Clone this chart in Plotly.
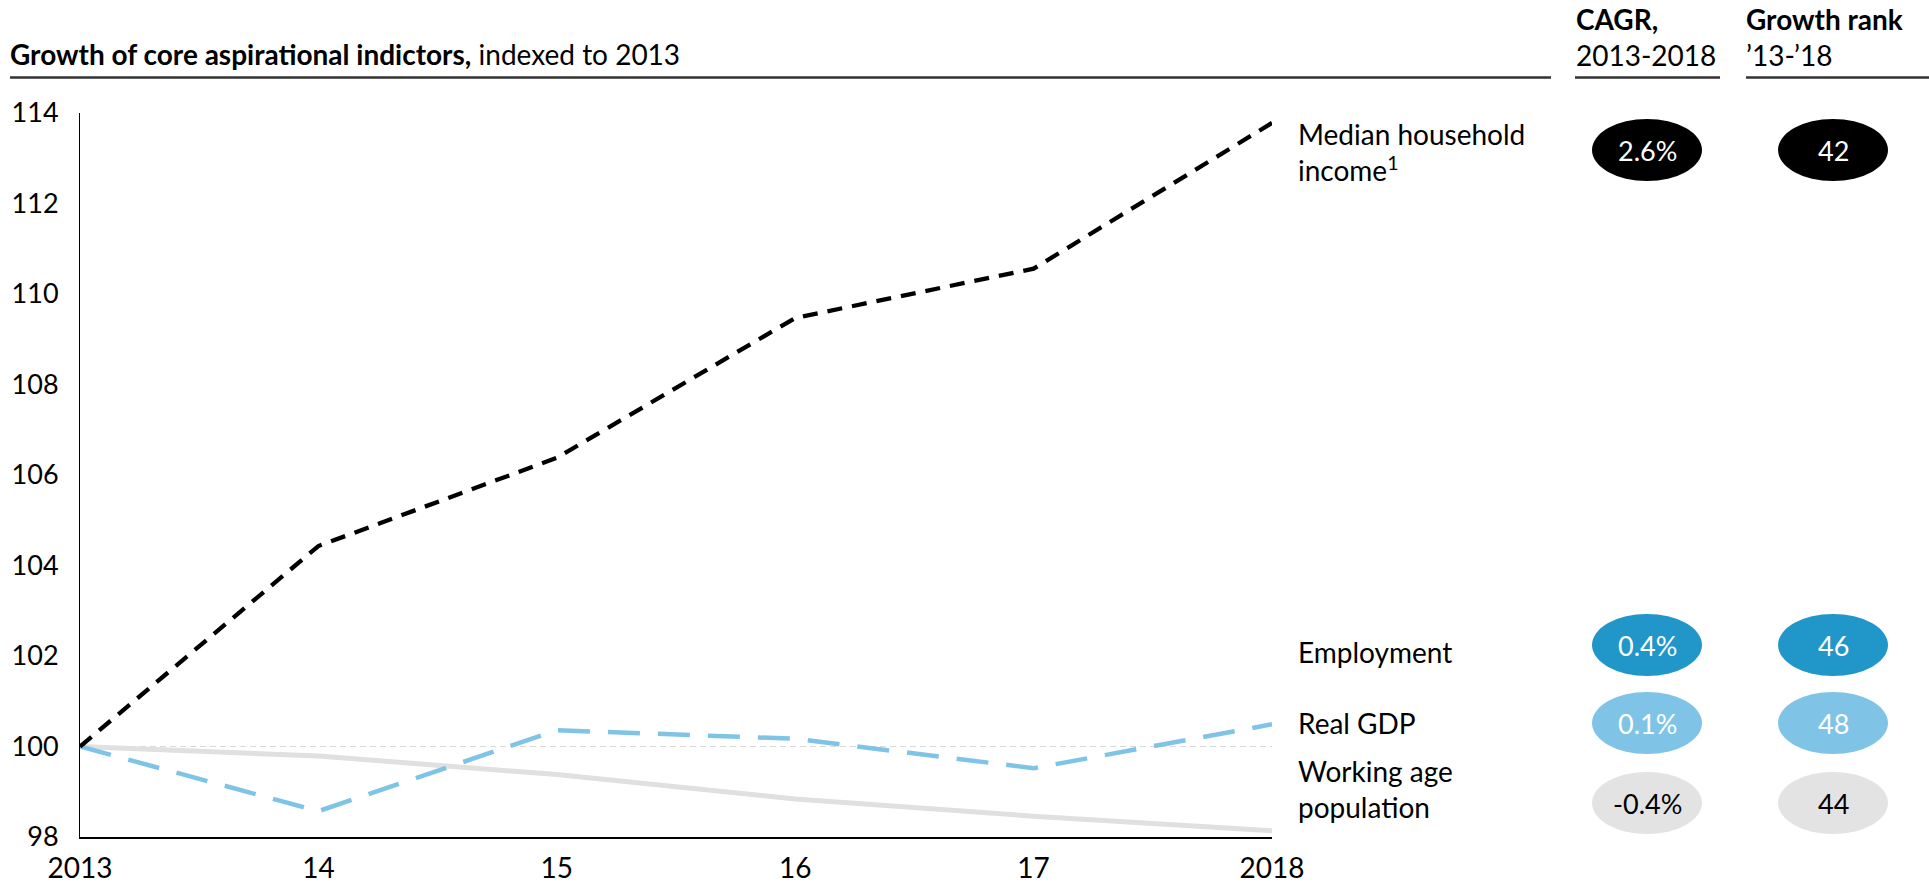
import plotly.graph_objects as go

# Index values, 2013 = 100
years = [2013, 2014, 2015, 2016, 2017, 2018]
year_labels = ["2013", "14", "15", "16", "17", "2018"]
median_income = [100.0, 104.43, 106.38, 109.47, 110.56, 113.78]
real_gdp = [100.0, 98.57, 100.36, 100.17, 99.52, 100.49]
working_age_pop = [100.0, 99.79, 99.38, 98.84, 98.46, 98.14]

# Side table
row_labels = ["Median household<br>income<sup>1</sup>", "Employment", "Real GDP",
              "Working age<br>population"]
cagr = ["2.6%", "0.4%", "0.1%", "-0.4%"]
growth_rank = ["42", "46", "48", "44"]
row_fill = ["#000000", "#2196C9", "#7FC4E6", "#E3E3E3"]
row_text = ["#FFFFFF", "#FFFFFF", "#FFFFFF", "#000000"]

W, H = 1929, 884
FONT = "Lato, 'Open Sans', sans-serif"
FS = 28


def px(x, y):
    """Pixel position -> paper coordinates."""
    return x / W, 1 - y / H


fig = go.Figure()

# Reference level at 100
fig.add_trace(go.Scatter(x=[years[0], years[-1]], y=[100, 100], mode="lines",
                         line=dict(color="#D9D9D9", width=1.2, dash="6px,4px"),
                         hoverinfo="skip", showlegend=False))
fig.add_trace(go.Scatter(x=years, y=working_age_pop, mode="lines",
                         line=dict(color="#E0E0E0", width=5),
                         name="Working age population", showlegend=False))
fig.add_trace(go.Scatter(x=years, y=real_gdp, mode="lines",
                         line=dict(color="#7FC4E6", width=4.5, dash="32px,18px"),
                         name="Real GDP", showlegend=False))
fig.add_trace(go.Scatter(x=years, y=median_income, mode="lines",
                         line=dict(color="#000000", width=4.3, dash="15px,10px"),
                         name="Median household income", showlegend=False))

shapes = []
annotations = []

# Header rules
for x0, x1 in [(10, 1551), (1575, 1720), (1746, 1929)]:
    a0, b0 = px(x0, 77.5)
    a1, _ = px(x1, 77.5)
    shapes.append(dict(type="line", xref="paper", yref="paper", x0=a0, x1=a1,
                       y0=b0, y1=b0, line=dict(color="#333333", width=2.4)))

# Headers
hx, hy = px(8, 54)
annotations.append(dict(text="<b>Growth of core aspirational indictors,</b> indexed to 2013",
                        x=hx, y=hy, xref="paper", yref="paper", xanchor="left",
                        yanchor="middle", showarrow=False,
                        font=dict(size=FS, color="#000000", family=FONT)))
for x, txt in [(1574, "<b>CAGR,</b><br>2013-2018"), (1744, "<b>Growth rank</b><br>’13-’18")]:
    ax_, ay_ = px(x, 37.5)
    annotations.append(dict(text=txt, x=ax_, y=ay_, xref="paper", yref="paper",
                            xanchor="left", yanchor="middle", align="left",
                            showarrow=False,
                            font=dict(size=FS, color="#000000", family=FONT)))

# Table rows: label + two ellipses
label_y = [151.5, 652, 723, 789]
bubble_y = [150, 645, 723, 803]
col_x = [1647, 1833]
bw, bh = 110, 62
for i in range(len(row_labels)):
    lx, ly = px(1296, label_y[i])
    annotations.append(dict(text=row_labels[i], x=lx, y=ly, xref="paper", yref="paper",
                            xanchor="left", yanchor="middle", align="left",
                            showarrow=False,
                            font=dict(size=FS, color="#000000", family=FONT)))
    for cx, val in zip(col_x, [cagr[i], growth_rank[i]]):
        x0, y0 = px(cx - bw / 2, bubble_y[i] - bh / 2)
        x1, y1 = px(cx + bw / 2, bubble_y[i] + bh / 2)
        shapes.append(dict(type="circle", xref="paper", yref="paper",
                           x0=x0, x1=x1, y0=y1, y1=y0,
                           fillcolor=row_fill[i], line=dict(width=0), layer="below"))
        tx, ty = px(cx, bubble_y[i])
        annotations.append(dict(text=val, x=tx, y=ty, xref="paper", yref="paper",
                                xanchor="center", yanchor="middle", showarrow=False,
                                font=dict(size=27, color=row_text[i], family=FONT)))

# Leader from the working age line end to its label
shapes.append(dict(type="line", xref="x", yref="y",
                   x0=years[-1] + 0.017, y0=working_age_pop[-1] + 0.05,
                   x1=years[-1] + 0.075, y1=working_age_pop[-1] + 1.1,
                   line=dict(color="#D0D0D0", width=1)))

fig.update_layout(
    width=W, height=H,
    margin=dict(l=0, r=0, t=0, b=0, autoexpand=False),
    paper_bgcolor="#FFFFFF", plot_bgcolor="#FFFFFF",
    font=dict(family=FONT, size=FS, color="#000000"),
    shapes=shapes, annotations=annotations,
    xaxis=dict(domain=[80 / W, 1272 / W], range=[2013, 2018],
               tickvals=years, ticktext=year_labels, automargin=False,
               showgrid=False, zeroline=False, showline=True,
               linecolor="#000000", linewidth=1.5, ticks="",
               ticklabelstandoff=6, tickfont=dict(size=FS)),
    yaxis=dict(domain=[1 - 837 / H, 1 - 113 / H], range=[98, 114],
               tickvals=[98, 100, 102, 104, 106, 108, 110, 112, 114],
               automargin=False,
               showgrid=False, zeroline=False, showline=True,
               linecolor="#000000", linewidth=1, ticks="",
               ticklabelstandoff=15, tickfont=dict(size=27)),
)

fig.write_html("out.html")
